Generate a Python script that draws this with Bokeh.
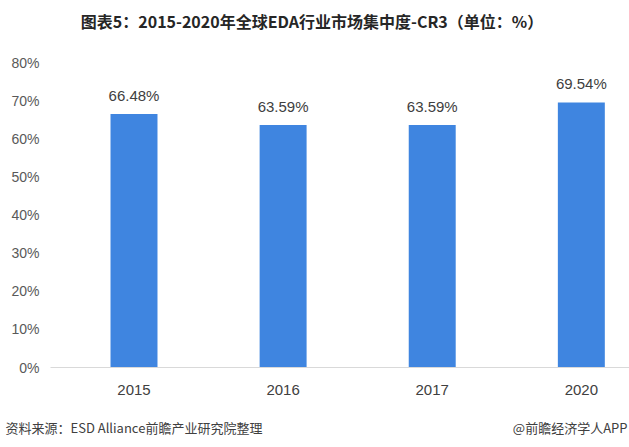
from bokeh.plotting import figure
from bokeh.layouts import column
from bokeh.models import ColumnDataSource, FixedTicker, Range1d, Plot
from bokeh.core.properties import value
from bokeh.embed import file_html
from bokeh.resources import INLINE

years = ["2015", "2016", "2017", "2020"]
cr3 = [0.6648, 0.6359, 0.6359, 0.6954]
value_labels = ["66.48%", "63.59%", "63.59%", "69.54%"]
y_ticks = [0.0, 0.1, 0.2, 0.3, 0.4, 0.5, 0.6, 0.7, 0.8]
y_tick_labels = ["0%", "10%", "20%", "30%", "40%", "50%", "60%", "70%", "80%"]
title_text = "图表5：2015-2020年全球EDA行业市场集中度-CR3（单位：%）"
source_text = "资料来源：ESD Alliance前瞻产业研究院整理"
brand_text = "@前瞻经济学人APP"

W = 629
CJK = "Noto Sans CJK SC"
HAS_FRAME_ALIGN = "frame_align" in Plot.properties()


def blank(h):
    f = figure(width=W, height=h, output_backend="svg", toolbar_location=None,
               x_range=Range1d(0, W), y_range=Range1d(0, h),
               x_axis_type=None, y_axis_type=None,
               min_border_left=0, min_border_right=0, min_border_top=0,
               min_border_bottom=0, outline_line_color=None,
               background_fill_color="white", border_fill_color="white")
    f.xgrid.visible = False
    f.ygrid.visible = False
    if HAS_FRAME_ALIGN:
        f.frame_align = False
    return f


# title strip
top = blank(40)
top.text(x=[311.5], y=[20], text=[title_text], text_align="center",
         text_baseline="middle", text_font=value(CJK), text_font_style="bold",
         text_font_size="16px", text_color="#262626")

# main chart
xs = list(range(len(years)))
src = ColumnDataSource(dict(x=xs, y=cr3, lab=value_labels))

p = figure(width=W, height=368, output_backend="svg", toolbar_location=None,
           x_range=Range1d(-0.560, 3.323), y_range=Range1d(0, 0.8),
           min_border_left=50, min_border_right=0, min_border_top=22,
           min_border_bottom=41, outline_line_color=None,
           background_fill_color="white", border_fill_color="white")
if HAS_FRAME_ALIGN:
    p.frame_align = False

p.vbar(x="x", top="y", width=0.315, source=src, color="#3F85E0", line_color=None)
p.text(x="x", y="y", text="lab", source=src, y_offset=-19,
       text_align="center", text_baseline="middle",
       text_font=value("Liberation Sans"), text_font_size="15px",
       text_color="#404040")

p.xgrid.visible = False
p.ygrid.visible = False

p.xaxis.ticker = FixedTicker(ticks=xs)
p.xaxis.major_label_overrides = {i: y for i, y in enumerate(years)}
p.xaxis.major_tick_line_color = None
p.xaxis.minor_tick_line_color = None
p.xaxis.axis_line_color = "#D9D9D9"
p.xaxis.major_label_standoff = 11
p.xaxis.major_label_text_font = "Liberation Sans"
p.xaxis.major_label_text_font_size = "15px"
p.xaxis.major_label_text_color = "#404040"

p.yaxis.ticker = FixedTicker(ticks=y_ticks)
p.yaxis.major_label_overrides = {t: l for t, l in zip(y_ticks, y_tick_labels)}
p.yaxis.major_tick_line_color = None
p.yaxis.minor_tick_line_color = None
p.yaxis.axis_line_color = None
p.yaxis.major_label_standoff = 5
p.yaxis.major_label_text_font = "Liberation Sans"
p.yaxis.major_label_text_font_size = "14px"
p.yaxis.major_label_text_color = "#595959"

# footer strip
bot = blank(39)
bot.text(x=[5], y=[20], text=[source_text], text_align="left",
         text_baseline="middle", text_font=value(CJK),
         text_font_size="13px", text_color="#404040")
bot.text(x=[627], y=[20], text=[brand_text], text_align="right",
         text_baseline="middle", text_font=value(CJK),
         text_font_size="13px", text_color="#404040")

layout = column(top, p, bot, spacing=0)
open("out.html", "w").write(file_html(layout, INLINE))
